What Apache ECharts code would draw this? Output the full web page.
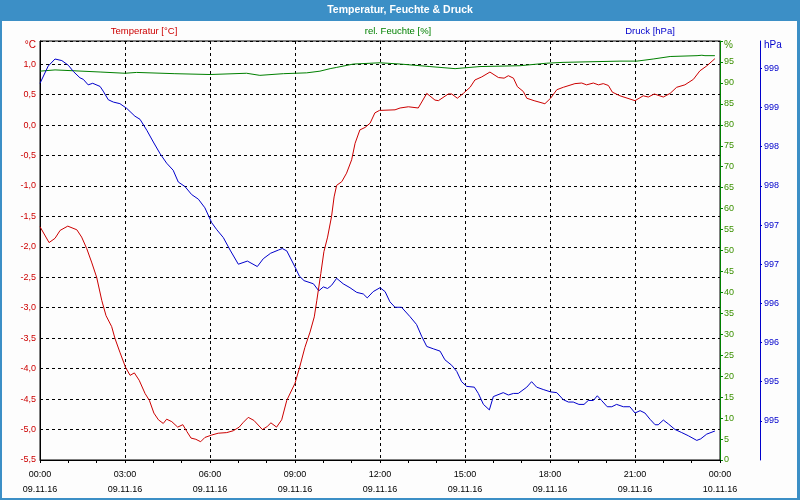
<!DOCTYPE html>
<html><head><meta charset="utf-8">
<script src="https://cdn.jsdelivr.net/npm/echarts@6/dist/echarts.min.js"></script>
<style>html,body{margin:0;padding:0;background:#fdfdfd}#c{width:800px;height:500px}</style>
</head><body><div id="c"></div>
<script>
const chartTitle = 'Temperatur, Feuchte & Druck';
const seriesNames = ['Temperatur [°C]', 'rel. Feuchte [%]', 'Druck [hPa]'];
const unitNames = ['°C', '%', 'hPa'];
const xTickHours = [0, 3, 6, 9, 12, 15, 18, 21, 24];
const timeLabels = ['00:00', '03:00', '06:00', '09:00', '12:00', '15:00', '18:00', '21:00', '00:00'];
const dateLabels = ['09.11.16', '09.11.16', '09.11.16', '09.11.16', '09.11.16', '09.11.16', '09.11.16', '09.11.16', '10.11.16'];

const tempHours = [0, 0.32, 0.53, 0.71, 0.98, 1.30, 1.47, 1.65, 1.82, 2.00, 2.18, 2.33, 2.53, 2.65, 2.82, 3.02, 3.18, 3.33, 3.50, 3.71, 3.86, 4.02, 4.18, 4.35, 4.47, 4.65, 4.86, 5.04, 5.18, 5.33, 5.50, 5.67, 5.82, 6.06, 6.29, 6.59, 6.82, 7.03, 7.18, 7.35, 7.55, 7.85, 8.02, 8.15, 8.35, 8.53, 8.71, 9.00, 9.15, 9.35, 9.53, 9.68, 9.77, 9.91, 10.02, 10.15, 10.29, 10.38, 10.47, 10.65, 10.82, 11.00, 11.12, 11.29, 11.47, 11.65, 11.82, 11.98, 12.53, 12.71, 13.00, 13.35, 13.65, 13.94, 14.06, 14.41, 14.53, 14.73, 14.94, 15.18, 15.35, 15.59, 15.88, 16.18, 16.38, 16.53, 16.71, 16.85, 17.06, 17.18, 17.44, 17.82, 18.02, 18.24, 18.47, 18.88, 19.12, 19.29, 19.53, 19.71, 19.88, 20.06, 20.20, 20.47, 21.00, 21.29, 21.47, 21.68, 22.00, 22.24, 22.47, 22.76, 23.06, 23.29, 23.53, 23.82];
const tempValues = [-1.67, -1.93, -1.86, -1.73, -1.66, -1.72, -1.84, -2.03, -2.25, -2.50, -2.88, -3.13, -3.31, -3.51, -3.73, -3.98, -4.11, -4.07, -4.19, -4.41, -4.52, -4.73, -4.84, -4.90, -4.83, -4.87, -4.96, -4.92, -5.03, -5.14, -5.16, -5.20, -5.13, -5.09, -5.06, -5.05, -5.02, -4.96, -4.88, -4.80, -4.85, -5.00, -4.95, -4.89, -4.96, -4.84, -4.52, -4.24, -4.00, -3.65, -3.40, -3.15, -2.88, -2.44, -2.08, -1.84, -1.50, -1.18, -0.99, -0.93, -0.79, -0.57, -0.30, -0.08, -0.04, 0.03, 0.20, 0.24, 0.25, 0.28, 0.30, 0.28, 0.52, 0.41, 0.40, 0.51, 0.51, 0.44, 0.52, 0.62, 0.74, 0.79, 0.87, 0.78, 0.77, 0.81, 0.77, 0.63, 0.55, 0.44, 0.40, 0.35, 0.44, 0.58, 0.62, 0.68, 0.69, 0.66, 0.69, 0.66, 0.68, 0.65, 0.54, 0.48, 0.40, 0.48, 0.46, 0.51, 0.46, 0.52, 0.62, 0.66, 0.75, 0.89, 0.97, 1.09];

const humHours = [0, 0.53, 2.12, 3.0, 3.41, 4.76, 6.0, 7.29, 7.76, 8.59, 9.41, 9.88, 10.24, 10.47, 11.06, 12.0, 12.71, 13.76, 14.65, 15.53, 16.94, 17.88, 18.46, 20.47, 21.07, 21.64, 22.24, 23.19, 23.36, 23.47, 23.82];
const humValues = [92.8, 93.1, 92.6, 92.3, 92.5, 92.2, 92.0, 92.3, 91.8, 92.2, 92.4, 92.8, 93.4, 93.7, 94.5, 94.8, 94.5, 93.9, 93.4, 93.9, 94.1, 94.7, 94.9, 95.2, 95.2, 95.7, 96.3, 96.5, 96.6, 96.5, 96.5];

const presHours = [0, 0.29, 0.53, 0.77, 1.0, 1.18, 1.41, 1.53, 1.70, 1.86, 2.12, 2.23, 2.41, 2.59, 2.82, 3.06, 3.35, 3.53, 3.77, 4.00, 4.24, 4.47, 4.70, 4.88, 5.12, 5.35, 5.59, 5.82, 6.06, 6.24, 6.47, 6.71, 7.00, 7.32, 7.67, 7.88, 8.14, 8.41, 8.55, 8.71, 9.02, 9.15, 9.32, 9.65, 9.84, 10.0, 10.15, 10.29, 10.47, 10.70, 10.94, 11.18, 11.41, 11.55, 11.76, 12.0, 12.18, 12.35, 12.53, 12.76, 13.06, 13.29, 13.47, 13.65, 13.88, 14.12, 14.29, 14.53, 14.71, 14.88, 15.06, 15.33, 15.47, 15.65, 15.86, 16.0, 16.35, 16.53, 16.71, 16.88, 17.18, 17.35, 17.53, 17.76, 18.02, 18.24, 18.47, 18.65, 18.82, 19.02, 19.2, 19.35, 19.53, 19.67, 19.82, 20.02, 20.18, 20.35, 20.59, 20.82, 21.0, 21.18, 21.35, 21.53, 21.71, 21.82, 22.0, 22.18, 22.41, 22.65, 22.88, 23.18, 23.32, 23.53, 23.82];
const presValues = [998.81, 999.03, 999.12, 999.10, 999.04, 998.96, 998.88, 998.86, 998.79, 998.81, 998.77, 998.71, 998.60, 998.57, 998.55, 998.49, 998.39, 998.35, 998.21, 998.06, 997.91, 997.79, 997.70, 997.55, 997.49, 997.39, 997.33, 997.22, 997.03, 996.94, 996.84, 996.68, 996.50, 996.54, 996.47, 996.57, 996.64, 996.68, 996.70, 996.67, 996.45, 996.35, 996.29, 996.25, 996.16, 996.21, 996.19, 996.23, 996.32, 996.25, 996.20, 996.14, 996.12, 996.07, 996.15, 996.20, 996.15, 996.02, 995.95, 995.95, 995.83, 995.73, 995.58, 995.45, 995.42, 995.39, 995.28, 995.21, 995.13, 995.00, 994.94, 994.93, 994.85, 994.71, 994.64, 994.81, 994.86, 994.83, 994.85, 994.85, 994.93, 995.00, 994.93, 994.90, 994.87, 994.86, 994.77, 994.74, 994.74, 994.71, 994.71, 994.76, 994.76, 994.82, 994.76, 994.68, 994.68, 994.71, 994.68, 994.68, 994.60, 994.63, 994.60, 994.52, 994.45, 994.45, 994.51, 994.46, 994.39, 994.35, 994.31, 994.25, 994.27, 994.33, 994.37];

const tempAxis = { min: -5.5, max: 1.38, interval: 0.5 };
const humAxis = { min: 0, max: 100, interval: 5 };
const presAxis = { min: 994.0, max: 999.35, interval: 0.5 };

const RED = '#cc0000', GREEN = '#008000', BLUE = '#0000cc';
const FONT = "'Liberation Sans', Arial, sans-serif";
const zip = (xs, ys) => xs.map((x, i) => [x, ys[i]]);

const chart = echarts.init(document.getElementById('c'), null, { renderer: 'canvas' });
const axisCommon = {
  type: 'value',
  splitLine: { show: false },
  axisLabel: { fontFamily: FONT, fontSize: 9, margin: 4 },
  nameLocation: 'end',
  nameGap: -4
};
chart.setOption({
  animation: false,
  backgroundColor: '#fdfdfd',
  textStyle: { fontFamily: FONT },
  grid: { left: 40, right: 80, top: 41, bottom: 40, show: true, borderColor: '#000', borderWidth: 1, backgroundColor: 'transparent', containLabel: false },
  xAxis: {
    type: 'value', min: 0, max: 24, interval: 3,
    axisLine: { show: true, onZero: false, lineStyle: { color: '#000', width: 1 } },
    axisTick: { show: true, length: 3, lineStyle: { color: '#000' } },
    minorTick: { show: true, splitNumber: 3, length: 3, lineStyle: { color: '#000' } },
    splitLine: { show: true, lineStyle: { color: '#000', type: [3, 3], width: 1 } },
    axisLabel: {
      color: '#000', fontFamily: FONT, fontSize: 9, margin: 7, lineHeight: 15,
      showMinLabel: true, showMaxLabel: true,
      formatter: v => { const i = xTickHours.indexOf(v); return i < 0 ? '' : timeLabels[i] + '\n' + dateLabels[i]; }
    }
  },
  yAxis: [
    Object.assign({}, axisCommon, {
      position: 'left', min: tempAxis.min, max: tempAxis.max, interval: tempAxis.interval,
      name: unitNames[0],
      nameTextStyle: { color: RED, fontFamily: FONT, fontSize: 10, align: 'right', verticalAlign: 'middle', padding: [0, 4, 0, 0] },
      axisLine: { show: true, onZero: false, lineStyle: { color: '#000' } },
      axisTick: { show: false },
      splitLine: { show: true, lineStyle: { color: '#000', type: [3, 3], width: 1 } },
      axisLabel: { color: RED, fontFamily: FONT, fontSize: 9, margin: 4, showMaxLabel: false,
        formatter: v => v > 1.01 ? '' : v.toFixed(1).replace('.', ',') }
    }),
    Object.assign({}, axisCommon, {
      position: 'right', min: humAxis.min, max: humAxis.max, interval: humAxis.interval,
      name: unitNames[1],
      nameTextStyle: { color: '#3a9000', fontFamily: FONT, fontSize: 10, align: 'left', verticalAlign: 'middle', padding: [0, 0, 0, 4] },
      axisLine: { show: true, onZero: false, lineStyle: { color: GREEN } },
      axisTick: { show: true, length: 3, lineStyle: { color: GREEN } },
      axisLabel: { color: '#3a9000', fontFamily: FONT, fontSize: 9, margin: 4,
        formatter: v => v >= 100 ? '' : String(v) }
    }),
    Object.assign({}, axisCommon, {
      position: 'right', offset: 40, min: presAxis.min, max: presAxis.max, interval: presAxis.interval,
      name: unitNames[2],
      nameTextStyle: { color: BLUE, fontFamily: FONT, fontSize: 10, align: 'left', verticalAlign: 'middle', padding: [0, 0, 0, 4] },
      axisLine: { show: true, onZero: false, lineStyle: { color: BLUE } },
      axisTick: { show: true, length: 2, lineStyle: { color: BLUE } },
      axisLabel: { color: BLUE, fontFamily: FONT, fontSize: 9, margin: 4, showMinLabel: false, showMaxLabel: false,
        formatter: v => (v < 994.25 || v > 999.2) ? '' : String(Math.round(v)) }
    })
  ],
  series: [
    { name: seriesNames[1], type: 'line', yAxisIndex: 1, data: zip(humHours, humValues), showSymbol: false, symbol: 'none',
      lineStyle: { color: GREEN, width: 1 }, itemStyle: { color: GREEN }, z: 3 },
    { name: seriesNames[2], type: 'line', yAxisIndex: 2, data: zip(presHours, presValues), showSymbol: false, symbol: 'none',
      lineStyle: { color: BLUE, width: 1 }, itemStyle: { color: BLUE }, z: 4 },
    { name: seriesNames[0], type: 'line', yAxisIndex: 0, data: zip(tempHours, tempValues), showSymbol: false, symbol: 'none',
      lineStyle: { color: RED, width: 1 }, itemStyle: { color: RED }, z: 5 }
  ],
  graphic: [
    { type: 'rect', z: 100, shape: { x: 0, y: 0, width: 800, height: 21 }, style: { fill: '#3c8fc6' } },
    { type: 'rect', z: 100, shape: { x: 0, y: 0, width: 2, height: 500 }, style: { fill: '#3c8fc6' } },
    { type: 'rect', z: 100, shape: { x: 797, y: 0, width: 3, height: 500 }, style: { fill: '#3c8fc6' } },
    { type: 'rect', z: 100, shape: { x: 0, y: 498, width: 800, height: 2 }, style: { fill: '#3c8fc6' } },
    { type: 'text', z: 101, x: 400, y: 10, style: { text: chartTitle, fill: '#ffffff', font: "bold 10.5px 'Liberation Sans', Arial, sans-serif", align: 'center', verticalAlign: 'middle', textAlign: 'center', textVerticalAlign: 'middle' } },
    { type: 'text', z: 101, x: 144, y: 31, style: { text: seriesNames[0], fill: RED, font: "9.5px 'Liberation Sans', Arial, sans-serif", align: 'center', verticalAlign: 'middle', textAlign: 'center', textVerticalAlign: 'middle' } },
    { type: 'text', z: 101, x: 398, y: 31, style: { text: seriesNames[1], fill: GREEN, font: "9.5px 'Liberation Sans', Arial, sans-serif", align: 'center', verticalAlign: 'middle', textAlign: 'center', textVerticalAlign: 'middle' } },
    { type: 'text', z: 101, x: 650, y: 31, style: { text: seriesNames[2], fill: BLUE, font: "9.5px 'Liberation Sans', Arial, sans-serif", align: 'center', verticalAlign: 'middle', textAlign: 'center', textVerticalAlign: 'middle' } }
  ]
});
</script>
</body></html>
